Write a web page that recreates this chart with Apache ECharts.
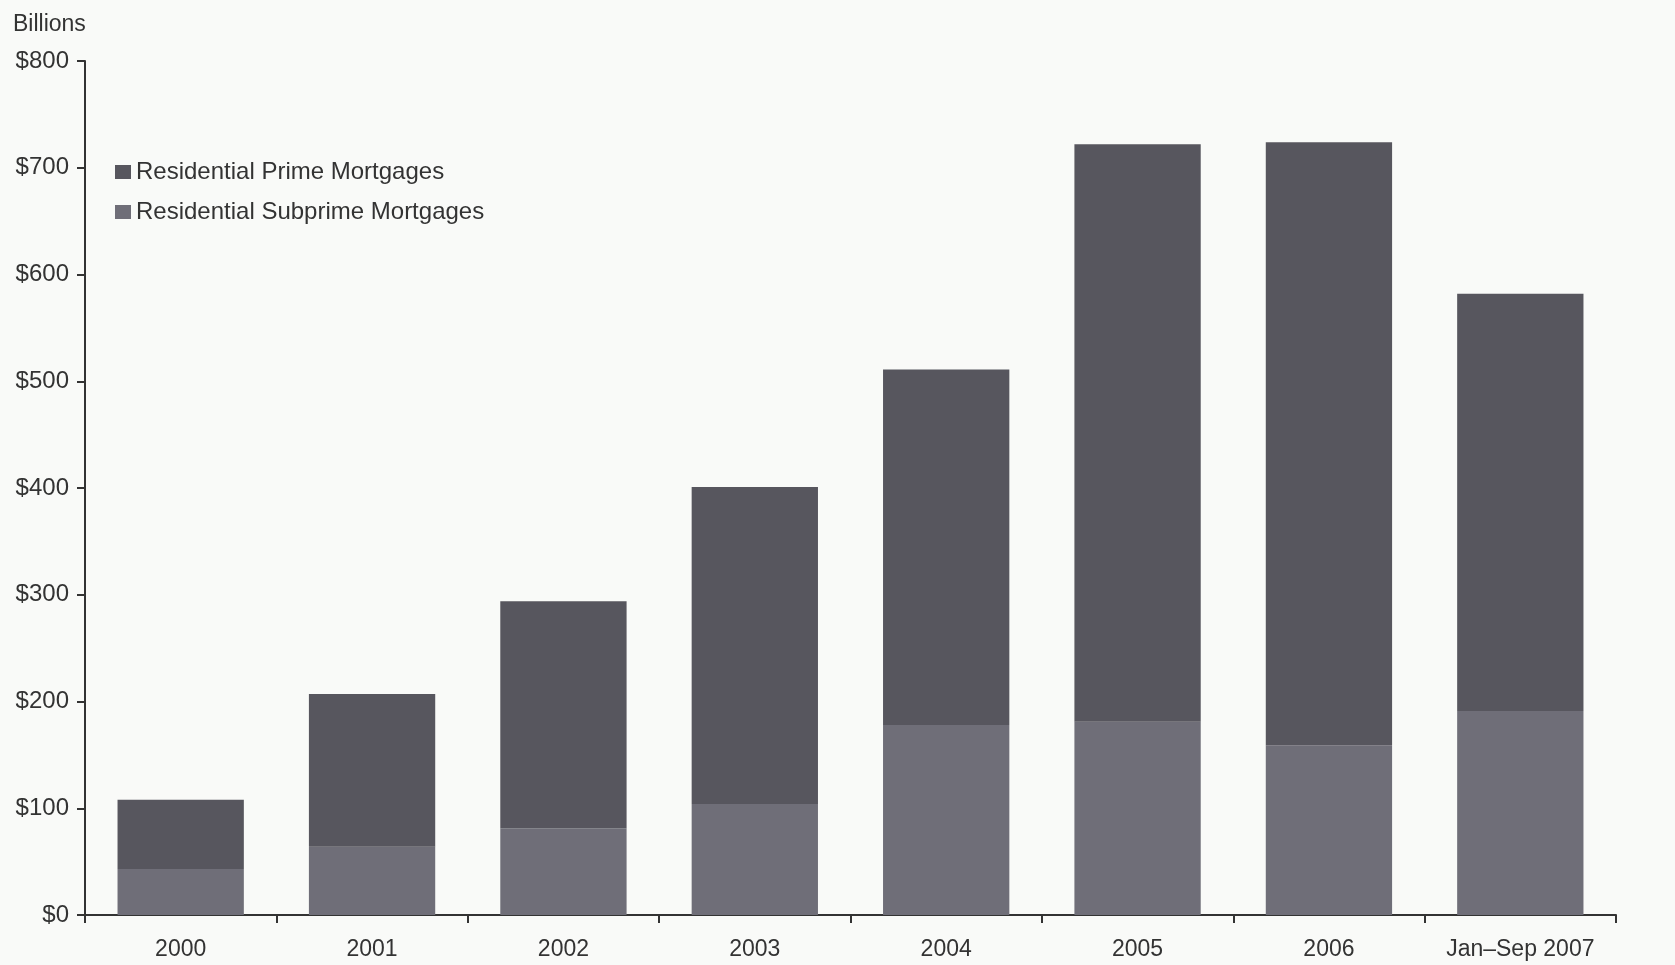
<!DOCTYPE html>
<html>
<head>
<meta charset="utf-8">
<script src="https://cdn.jsdelivr.net/npm/echarts@6/dist/echarts.min.js"></script>
<style>
html,body{margin:0;padding:0;background:#f9faf8;}
#chart{width:1675px;height:965px;}
</style>
</head>
<body>
<div id="chart"></div>
<script>
const categories = ['2000','2001','2002','2003','2004','2005','2006','Jan\u2013Sep 2007'];
const subprime = [43, 64, 81, 104, 178, 181, 159, 191];
const prime = [65, 143, 213, 297, 333, 541, 565, 391];
const yTicks = [0, 100, 200, 300, 400, 500, 600, 700, 800];

const font = 'Liberation Sans, Arial, sans-serif';
const textColor = '#333333';
const chart = echarts.init(document.getElementById('chart'));
chart.setOption({
  backgroundColor: '#f9faf8',
  animation: false,
  textStyle: { fontFamily: font },
  title: {
    text: 'Billions',
    left: 8, top: 8,
    textStyle: { fontSize: 23, fontWeight: 'normal', color: textColor, fontFamily: font }
  },
  legend: {
    orient: 'vertical',
    left: 115, top: 160, padding: 0,
    itemWidth: 16, itemHeight: 14, itemGap: 16,
    icon: 'rect',
    textStyle: { fontSize: 24, color: textColor, fontFamily: font, padding: [0,0,0,0] },
    data: ['Residential Prime Mortgages', 'Residential Subprime Mortgages']
  },
  grid: { left: 85, right: 59, top: 61, bottom: 50, containLabel: false },
  xAxis: {
    type: 'category',
    data: categories,
    boundaryGap: true,
    axisLine: { lineStyle: { color: '#333', width: 2 } },
    axisTick: { show: true, length: 8, lineStyle: { color: '#333', width: 2 } },
    axisLabel: { fontSize: 23, color: textColor, margin: 23, fontFamily: font, interval: 0 }
  },
  yAxis: {
    type: 'value',
    min: yTicks[0], max: yTicks[yTicks.length - 1], interval: 100,
    axisLine: { show: true, lineStyle: { color: '#333', width: 2 } },
    axisTick: { show: true, length: 8, lineStyle: { color: '#333', width: 2 } },
    splitLine: { show: false },
    axisLabel: { fontSize: 24, color: textColor, margin: 16, fontFamily: font,
      formatter: v => '$' + v }
  },
  series: [
    {
      name: 'Residential Subprime Mortgages', type: 'bar', stack: 'total',
      data: subprime, barCategoryGap: '34%',
      itemStyle: { color: '#6f6e78' }
    },
    {
      name: 'Residential Prime Mortgages', type: 'bar', stack: 'total',
      data: prime, barCategoryGap: '34%',
      itemStyle: { color: '#57565e' }
    }
  ]
});
</script>
</body>
</html>
